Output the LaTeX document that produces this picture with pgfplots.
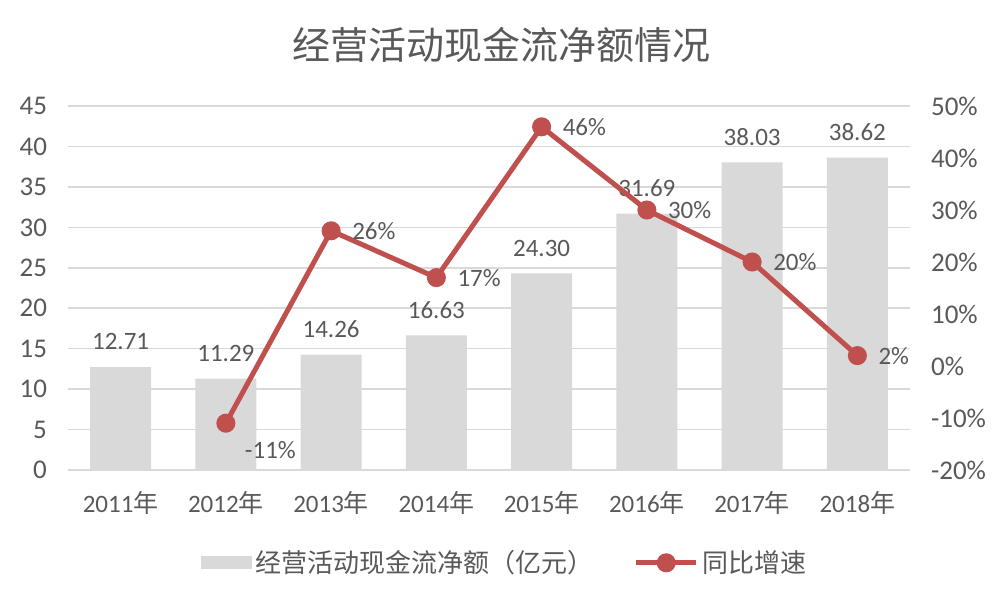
\documentclass[border=0pt]{standalone}
\usepackage{pgfplots}
\pgfplotsset{compat=1.18}
\usepackage{fontspec}
\setmainfont{Carlito}
\newfontfamily\cjk{Noto Sans CJK SC}
\definecolor{txt}{HTML}{595959}
\definecolor{barc}{HTML}{D9D9D9}
\definecolor{gridc}{HTML}{D9D9D9}
\definecolor{linec}{HTML}{C0504D}
\pgfplotstableread{
x y label
0 12.71 12.71
1 11.29 11.29
2 14.26 14.26
3 16.63 16.63
4 24.30 24.30
5 31.69 31.69
6 38.03 38.03
7 38.62 38.62
}\bars
\pgfplotstableread{
x y label
1 -11 {}
2 26 26\%
3 17 17\%
4 46 46\%
5 30 30\%
6 20 20\%
7 2 2\%
}\growth
\pgfplotsset{
  common/.style={
    at={(34pt,66pt)}, anchor=south west, scale only axis,
    width=421pt, height=182pt,
    xmin=-0.5, xmax=7.5,
    axis line style={draw=none},
    tick style={draw=none},
    /pgf/number format/assume math mode=true,
    tick label style={font=\fontsize{12.5}{14}\selectfont, text=txt},
    yticklabel style={font=\fontsize{13.5}{15}\selectfont},
  }
}
\begin{document}
\begin{tikzpicture}[x=0.5pt,y=0.5pt]
\useasboundingbox (0,0) rectangle (1002,602);
\node[text=txt, font=\cjk\fontsize{19}{22}\selectfont] at (501,557) {经营活动现金流净额情况};
\begin{axis}[common,
  ymin=0, ymax=45, ytick={0,5,...,45},
  ymajorgrids, grid style={gridc, line width=0.8pt},
  xtick={0,...,7},
  xticklabels={{2011{\cjk 年}},{2012{\cjk 年}},{2013{\cjk 年}},{2014{\cjk 年}},{2015{\cjk 年}},{2016{\cjk 年}},{2017{\cjk 年}},{2018{\cjk 年}}},
  xticklabel style={yshift=-7pt},
  yticklabel style={xshift=-7pt},
]
\addplot[ybar, bar width=30.5pt, fill=barc, draw=none,
  nodes near coords, point meta=explicit symbolic,
  every node near coord/.append style={font=\fontsize{12.5}{14}\selectfont, text=txt, yshift=5pt}]
  table[x=x, y=y, meta=label] {\bars};
\end{axis}
\begin{axis}[common,
  ymin=-20, ymax=50, ytick={-20,-10,...,50},
  axis y line*=right, axis x line=none,
  yticklabel={\pgfmathprintnumber{\tick}\%},
  yticklabel style={xshift=7pt},
  legend style={at={(0.52,-0.255)}, anchor=center, draw=none, fill=none,
    legend columns=2, font=\cjk\fontsize{13}{15}\selectfont, text=txt,
    /tikz/every even column/.append style={column sep=18pt}},
]
\addlegendimage{legend image code/.code={\fill[barc] (0pt,-3pt) rectangle (25pt,3pt);}}
\addlegendentry{经营活动现金流净额（亿元）}
\addplot[color=linec, line width=2.5pt, mark=*, mark size=3.5pt,
  mark options={solid},
  legend image code/.code={\draw[linec, line width=2.5pt] (0pt,0pt) -- (30pt,0pt); \fill[linec] (15pt,0pt) circle (3.5pt);},
  nodes near coords, point meta=explicit symbolic,
  every node near coord/.append style={anchor=west, xshift=6pt, font=\fontsize{12.5}{14}\selectfont, text=txt}]
  table[x=x, y=y, meta=label] {\growth};
\addlegendentry{同比增速}
\addplot[forget plot, draw=none, mark=none,
  nodes near coords, point meta=explicit symbolic,
  every node near coord/.append style={anchor=west, xshift=6pt, yshift=-13.5pt, font=\fontsize{12.5}{14}\selectfont, text=txt}]
  coordinates {(1,-11) [-11\%]};
\end{axis}
\end{tikzpicture}
\end{document}
